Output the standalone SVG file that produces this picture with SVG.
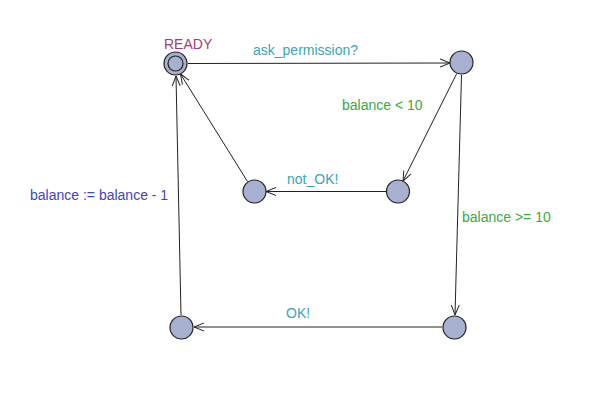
<svg xmlns="http://www.w3.org/2000/svg" width="606" height="408" viewBox="0 0 606 408">
<style>
text{font-family:"Liberation Sans",Arial,sans-serif;font-size:14px}
.loc{fill:#a8b0d0;stroke:#222;stroke-width:1.2}
.e{stroke:#222;stroke-width:1;fill:none;marker-end:url(#ah)}
.sync{fill:#40a4b4}
.guard{fill:#40a840}
.upd{fill:#4444b8}
.name{fill:#a0406e}
</style>
<defs>
<marker id="ah" viewBox="0 0 10 10" refX="10" refY="5" markerWidth="10" markerHeight="10" markerUnits="userSpaceOnUse" orient="auto">
<path d="M0,1 L10,5 L0,9" fill="none" stroke="#222" stroke-width="1"/>
</marker>
</defs>
<rect width="606" height="408" fill="#fff"/>
<g id="edges">
<line class="e" x1="188" y1="63.5" x2="450" y2="63"/>
<line class="e" x1="456.5" y1="74" x2="403" y2="181"/>
<line class="e" x1="461.5" y1="75" x2="455" y2="315"/>
<line class="e" x1="442" y1="327" x2="194" y2="327"/>
<line class="e" x1="386" y1="191.5" x2="266" y2="191.5"/>
<line class="e" x1="247.5" y1="181.5" x2="180.5" y2="74"/>
<line class="e" x1="181" y1="315" x2="176" y2="76"/>
</g>
<g id="labels">
<text class="sync" x="253" y="55">ask_permission?</text>
<text class="guard" x="342" y="110">balance &lt; 10</text>
<text class="sync" x="287" y="184">not_OK!</text>
<text class="guard" x="462" y="222">balance &gt;= 10</text>
<text class="sync" x="286" y="318">OK!</text>
<text class="upd" x="30" y="200">balance := balance - 1</text>
</g>
<g id="ready">
<circle class="loc" cx="175.5" cy="63.5" r="11.5"/>
<circle cx="175.5" cy="63.5" r="7.5" fill="none" stroke="#222" stroke-width="1.2"/>
<text class="name" x="164" y="49">READY</text>
</g>
<g id="n1"><circle class="loc" cx="461.5" cy="62.5" r="11.5"/></g>
<g id="n2"><circle class="loc" cx="398" cy="191.5" r="11.5"/></g>
<g id="n3"><circle class="loc" cx="254.5" cy="191.5" r="11.5"/></g>
<g id="n4"><circle class="loc" cx="454.5" cy="327.5" r="11.5"/></g>
<g id="n5"><circle class="loc" cx="181.5" cy="327.5" r="11.5"/></g>
</svg>
